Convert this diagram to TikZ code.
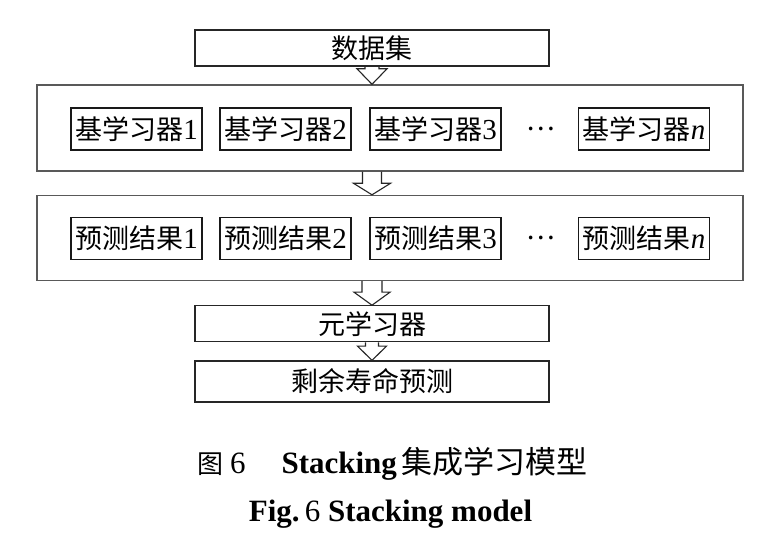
\documentclass[tikz,border=0pt]{standalone}
\usepackage{fontspec}
\setmainfont{Liberation Serif}
\newfontfamily\cjk{Noto Sans CJK SC}
\usetikzlibrary{calc}
\newcommand{\dg}[1]{{\fontsize{29}{29}\selectfont #1}}
\tikzset{
  mainbox/.style={draw=black!85, line width=1.2pt, minimum width=354pt, inner sep=0pt,
    font=\fontsize{27}{27}\selectfont\cjk},
  outbox/.style={draw=black!65, line width=1.4pt, minimum width=706pt, inner sep=0pt},
  inbox/.style={draw=black!90, line width=1.2pt, minimum width=131pt, minimum height=42pt, inner sep=0pt,
    font=\fontsize{27}{27}\selectfont},
  arrline/.style={draw=black!85, line width=1.1pt, line join=miter},
  captext/.style={font=\fontsize{31}{31}\selectfont, inner sep=0pt}
}
\newcommand{\blockarr}[5]{%
  \draw[arrline] let \p1=(#1), \p2=(#2) in
    (\x1-#3pt,\y1) -- (\x1-#3pt,\y2+#5pt) -- (\x1-#4pt,\y2+#5pt) -- (\x1,\y2)
    -- (\x1+#4pt,\y2+#5pt) -- (\x1+#3pt,\y2+#5pt) -- (\x1+#3pt,\y1);}
\begin{document}
\begin{tikzpicture}[x=1pt,y=-1pt]
\useasboundingbox[fill=white] (0,0) rectangle (772,556);
% top box
\node[mainbox, minimum height=36pt] (data) at (372,48) {数据集};
% base learners layer
\node[outbox, minimum height=86pt] (L1) at (390,128) {};
\node[inbox] (b1) at (136.5,129) {{\cjk 基学习器}\dg{1}};
\node[inbox] (b2) at (285.5,129) {{\cjk 基学习器}\dg{2}};
\node[inbox] (b3) at (435.5,129) {{\cjk 基学习器}\dg{3}};
\node[font=\fontsize{27}{27}\selectfont\cjk, inner sep=0pt] (d1) at (541,129) {…};
\node[inbox] (bn) at (644,129) {{\cjk 基学习器}\dg{\textit{n}}};
% predictions layer
\node[outbox, minimum height=85pt] (L2) at (390,238) {};
\node[inbox] (p1) at (136.5,238.3) {{\cjk 预测结果}\dg{1}};
\node[inbox] (p2) at (285.5,238.3) {{\cjk 预测结果}\dg{2}};
\node[inbox] (p3) at (435.5,238.3) {{\cjk 预测结果}\dg{3}};
\node[font=\fontsize{27}{27}\selectfont\cjk, inner sep=0pt] (d2) at (541,238.3) {…};
\node[inbox] (pn) at (644,238.3) {{\cjk 预测结果}\dg{\textit{n}}};
% meta learner and output
\node[mainbox, minimum height=36pt] (meta) at (372,323.8) {元学习器};
\node[mainbox, minimum height=41pt] (rul) at (372,381.5) {剩余寿命预测};
% arrows
\blockarr{data.south}{L1.north}{7}{15}{15.5}
\blockarr{data.south |- L1.south}{L2.north}{9.5}{18.5}{11.5}
\blockarr{meta.north |- L2.south}{meta.north}{10}{18}{13}
\blockarr{meta.south}{rul.north}{6.5}{14.5}{14.3}
% captions
\node[captext, anchor=base] (cap1) at (392.5,473) {{\fontsize{26}{26}\selectfont\cjk 图}\hspace{7pt}6\hspace{36pt}\textbf{Stacking}\hspace{5pt}{\cjk 集成学习模型}};
\node[captext, anchor=base] (cap2) at (390.5,521) {\textbf{Fig.}\,6 \textbf{Stacking model}};
\end{tikzpicture}
\end{document}
